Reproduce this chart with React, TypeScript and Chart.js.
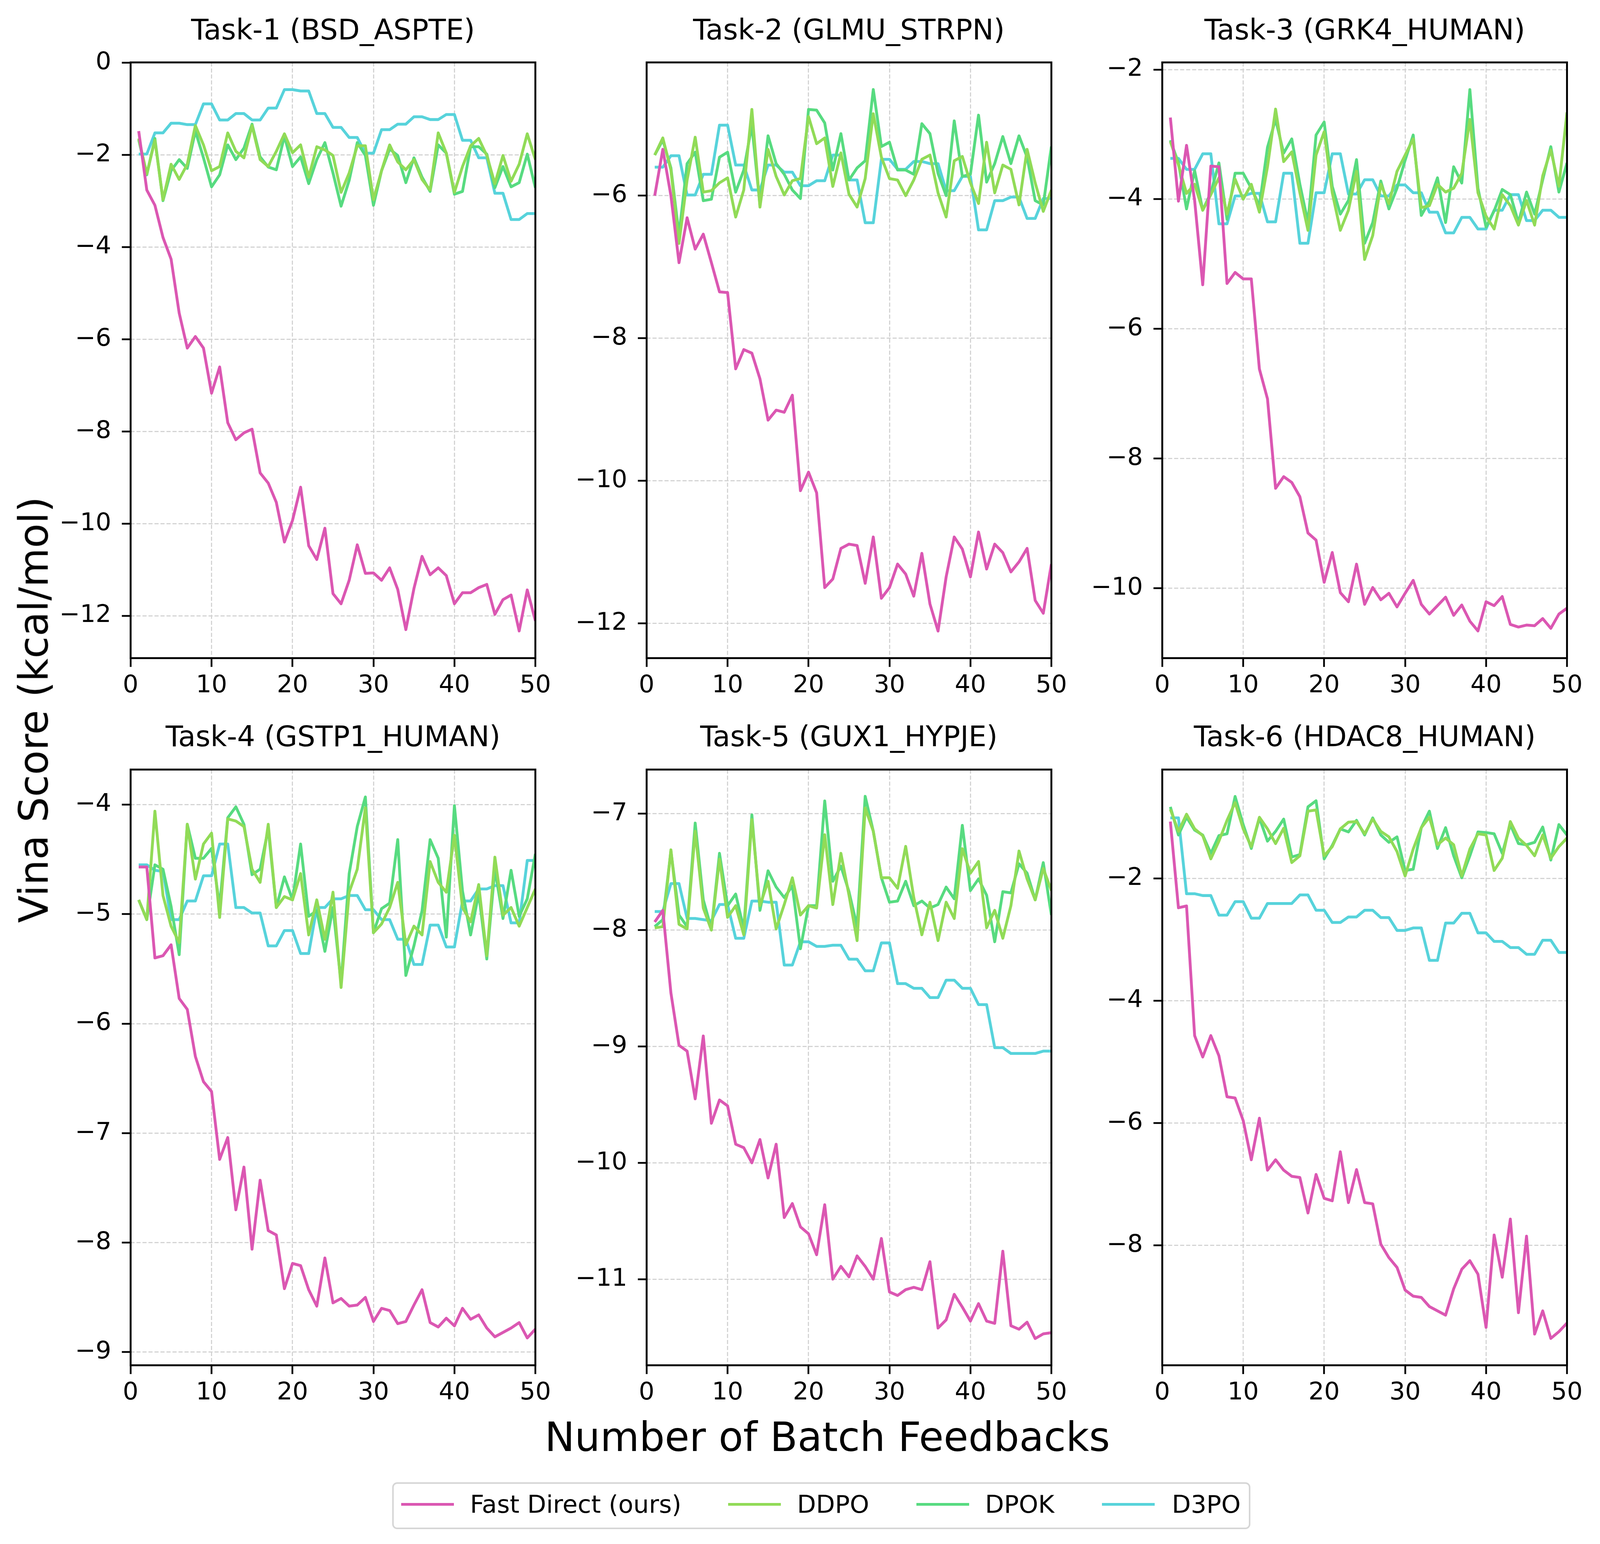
import React, { useEffect, useRef, useState } from 'react';
import { Chart, registerables } from 'chart.js';

Chart.register(...registerables);

// ---------------- DATA ----------------
const batches = [1, 2, 3, 4, 5, 6, 7, 8, 9, 10, 11, 12, 13, 14, 15, 16, 17, 18, 19, 20, 21, 22, 23, 24, 25, 26, 27, 28, 29, 30, 31, 32, 33, 34, 35, 36, 37, 38, 39, 40, 41, 42, 43, 44, 45, 46, 47, 48, 49, 50];
const xTicks = [0, 10, 20, 30, 40, 50];
const seriesNames = ['Fast Direct (ours)', 'DDPO', 'DPOK', 'D3PO'];
const seriesColors = ['#db57b2', '#91db57', '#57db80', '#57d3db'];
const taskTitles = ['Task-1 (BSD_ASPTE)', 'Task-2 (GLMU_STRPN)', 'Task-3 (GRK4_HUMAN)', 'Task-4 (GSTP1_HUMAN)', 'Task-5 (GUX1_HYPJE)', 'Task-6 (HDAC8_HUMAN)'];
const yLabel = 'Vina Score (kcal/mol)';
const xLabel = 'Number of Batch Feedbacks';

const task1FastDirect = [-1.48, -2.76, -3.09, -3.79, -4.26, -5.43, -6.19, -5.94, -6.19, -7.17, -6.6, -7.81, -8.18, -8.03, -7.95, -8.9, -9.12, -9.54, -10.4, -9.93, -9.21, -10.48, -10.78, -10.1, -11.52, -11.74, -11.23, -10.46, -11.08, -11.07, -11.23, -10.96, -11.43, -12.3, -11.41, -10.71, -11.11, -10.96, -11.13, -11.74, -11.5, -11.5, -11.39, -11.32, -11.97, -11.65, -11.55, -12.33, -11.44, -12.11];
const task1DDPO = [-1.64, -2.41, -1.68, -2.97, -2.2, -2.53, -2.2, -1.36, -1.78, -2.34, -2.25, -1.52, -1.92, -2.06, -1.36, -2.1, -2.25, -1.92, -1.54, -1.95, -1.78, -2.48, -1.82, -1.89, -2.01, -2.81, -2.39, -1.8, -1.8, -2.97, -2.34, -1.78, -2.15, -2.32, -2.1, -2.53, -2.76, -1.52, -1.96, -2.81, -2.25, -1.8, -1.64, -2.01, -2.62, -2.01, -2.57, -2.2, -1.54, -2.1];
const task1DPOK = [-1.67, -2.43, -1.64, -2.99, -2.34, -2.1, -2.29, -1.48, -2.06, -2.69, -2.43, -1.78, -2.1, -1.85, -1.33, -2.04, -2.26, -2.32, -1.59, -2.25, -2.04, -2.62, -2.1, -1.73, -2.39, -3.11, -2.55, -1.73, -2.01, -3.09, -2.34, -1.87, -2.01, -2.6, -2.06, -2.48, -2.79, -1.78, -1.96, -2.85, -2.79, -1.82, -1.82, -1.98, -2.71, -2.25, -2.69, -2.6, -1.98, -2.71];
const task1D3PO = [-1.98, -1.98, -1.52, -1.52, -1.31, -1.31, -1.34, -1.34, -0.89, -0.89, -1.24, -1.24, -1.1, -1.1, -1.24, -1.24, -0.98, -0.98, -0.58, -0.58, -0.61, -0.61, -1.1, -1.1, -1.4, -1.4, -1.62, -1.62, -1.96, -1.96, -1.45, -1.45, -1.33, -1.33, -1.17, -1.17, -1.23, -1.23, -1.12, -1.12, -1.68, -1.68, -2.06, -2.06, -2.83, -2.83, -3.4, -3.4, -3.27, -3.27];

const task2FastDirect = [-6.0, -5.35, -6.0, -6.94, -6.31, -6.75, -6.54, -6.94, -7.35, -7.36, -8.43, -8.16, -8.21, -8.57, -9.15, -9.01, -9.04, -8.8, -10.14, -9.88, -10.17, -11.5, -11.38, -10.95, -10.89, -10.91, -11.44, -10.79, -11.65, -11.5, -11.17, -11.31, -11.62, -11.02, -11.73, -12.11, -11.35, -10.79, -10.96, -11.35, -10.72, -11.24, -10.89, -11.01, -11.28, -11.14, -10.95, -11.68, -11.86, -11.17];
const task2DDPO = [-5.43, -5.19, -5.64, -6.67, -5.78, -5.18, -5.95, -5.93, -5.82, -5.75, -6.3, -5.92, -4.79, -6.16, -5.35, -5.73, -5.99, -5.79, -5.76, -4.89, -5.27, -5.19, -5.87, -5.4, -5.98, -6.16, -5.76, -4.85, -5.46, -5.76, -5.78, -6.0, -5.78, -5.49, -5.43, -5.96, -6.3, -5.51, -5.45, -5.82, -6.11, -5.25, -5.96, -5.57, -5.63, -6.13, -5.35, -5.82, -6.22, -5.92];
const task2DPOK = [-5.43, -5.22, -5.61, -6.55, -5.55, -5.39, -6.07, -6.05, -5.46, -5.39, -5.95, -5.64, -5.01, -6.13, -5.16, -5.55, -5.7, -5.92, -6.04, -4.79, -4.8, -4.98, -5.64, -5.13, -5.78, -5.61, -5.51, -4.51, -5.31, -5.25, -5.64, -5.64, -5.7, -4.99, -5.13, -5.69, -6.0, -4.95, -5.73, -5.7, -4.87, -5.81, -5.55, -5.17, -5.55, -5.16, -5.46, -6.07, -6.13, -5.31];
const task2D3PO = [-5.6, -5.6, -5.44, -5.44, -5.99, -5.99, -5.7, -5.7, -5.01, -5.01, -5.57, -5.57, -5.92, -5.92, -5.57, -5.57, -5.67, -5.67, -5.86, -5.86, -5.79, -5.79, -5.43, -5.43, -5.78, -5.78, -6.38, -6.38, -5.49, -5.49, -5.63, -5.63, -5.52, -5.52, -5.55, -5.55, -5.93, -5.93, -5.73, -5.73, -6.48, -6.48, -6.07, -6.07, -6.02, -6.02, -6.32, -6.32, -6.04, -6.04];

const task3FastDirect = [-2.74, -4.03, -3.17, -4.02, -5.32, -3.49, -3.5, -5.3, -5.13, -5.23, -5.23, -6.62, -7.08, -8.46, -8.28, -8.37, -8.59, -9.15, -9.26, -9.91, -9.45, -10.07, -10.21, -9.63, -10.25, -9.99, -10.18, -10.08, -10.29, -10.08, -9.88, -10.25, -10.4, -10.27, -10.14, -10.42, -10.26, -10.51, -10.66, -10.21, -10.27, -10.13, -10.56, -10.6, -10.57, -10.58, -10.47, -10.62, -10.4, -10.31];
const task3DDPO = [-3.11, -3.47, -3.91, -3.77, -4.17, -3.93, -3.67, -4.23, -3.69, -4.0, -3.77, -4.2, -3.5, -2.61, -3.42, -3.27, -3.9, -4.48, -3.32, -2.96, -3.9, -4.48, -4.17, -3.57, -4.93, -4.56, -3.77, -4.07, -3.57, -3.32, -3.07, -4.13, -4.1, -3.77, -3.89, -3.83, -3.6, -2.77, -3.9, -4.26, -4.46, -3.93, -4.1, -4.4, -4.02, -4.4, -3.64, -3.24, -3.8, -2.66];
const task3DPOK = [-3.09, -3.44, -4.15, -3.56, -4.17, -3.9, -3.44, -4.31, -3.6, -3.6, -3.83, -4.1, -3.2, -2.77, -3.29, -3.07, -3.77, -4.36, -3.01, -2.81, -3.8, -4.23, -4.02, -3.39, -4.68, -4.36, -3.72, -4.15, -3.83, -3.4, -3.01, -4.25, -4.03, -3.67, -4.36, -3.5, -3.75, -2.31, -3.83, -4.43, -4.18, -3.85, -3.93, -4.36, -3.89, -4.23, -3.7, -3.19, -3.89, -3.44];
const task3D3PO = [-3.37, -3.37, -3.54, -3.54, -3.3, -3.3, -4.38, -4.38, -3.95, -3.95, -3.91, -3.91, -4.35, -4.35, -3.6, -3.6, -4.68, -4.68, -3.9, -3.9, -3.3, -3.3, -3.92, -3.92, -3.7, -3.7, -3.95, -3.95, -3.78, -3.78, -3.9, -3.9, -4.2, -4.2, -4.52, -4.52, -4.28, -4.28, -4.46, -4.46, -4.17, -4.17, -3.93, -3.93, -4.33, -4.33, -4.17, -4.17, -4.28, -4.28];

const task4FastDirect = [-4.57, -4.57, -5.4, -5.38, -5.28, -5.77, -5.87, -6.3, -6.53, -6.62, -7.24, -7.04, -7.7, -7.31, -8.06, -7.43, -7.89, -7.93, -8.42, -8.19, -8.21, -8.43, -8.58, -8.14, -8.55, -8.51, -8.58, -8.57, -8.5, -8.72, -8.6, -8.62, -8.74, -8.72, -8.57, -8.43, -8.73, -8.77, -8.69, -8.76, -8.6, -8.7, -8.66, -8.78, -8.86, -8.82, -8.78, -8.73, -8.87, -8.79];
const task4DDPO = [-4.87, -5.05, -4.06, -4.83, -5.11, -5.26, -4.18, -4.68, -4.36, -4.26, -5.03, -4.13, -4.15, -4.2, -4.59, -4.71, -4.18, -4.94, -4.84, -4.87, -4.63, -5.19, -4.87, -5.23, -4.8, -5.67, -4.8, -4.59, -4.03, -5.17, -5.09, -4.94, -4.71, -5.28, -5.11, -5.19, -4.52, -4.71, -4.8, -4.28, -4.94, -5.07, -4.73, -5.38, -4.48, -5.01, -4.94, -5.11, -4.94, -4.77];
const task4DPOK = [-4.87, -5.05, -4.55, -4.59, -4.93, -5.37, -4.18, -4.49, -4.49, -4.4, -4.93, -4.12, -4.02, -4.18, -4.64, -4.59, -4.22, -4.94, -4.66, -4.87, -4.36, -5.02, -4.97, -5.34, -4.94, -5.63, -4.63, -4.2, -3.93, -5.17, -4.95, -4.9, -4.32, -5.56, -5.29, -4.97, -4.32, -4.49, -5.21, -4.01, -4.79, -5.19, -4.81, -5.41, -4.59, -5.04, -4.6, -5.02, -4.86, -4.45];
const task4D3PO = [-4.55, -4.55, -4.6, -4.61, -5.05, -5.05, -4.88, -4.88, -4.65, -4.65, -4.36, -4.36, -4.94, -4.94, -4.99, -4.99, -5.29, -5.29, -5.15, -5.15, -5.36, -5.36, -4.94, -4.94, -4.86, -4.86, -4.83, -4.83, -4.96, -4.96, -5.05, -5.05, -5.23, -5.23, -5.46, -5.46, -5.1, -5.1, -5.3, -5.3, -4.88, -4.88, -4.77, -4.77, -4.74, -4.74, -5.08, -5.08, -4.51, -4.51];

const task5FastDirect = [-7.93, -7.83, -8.54, -8.99, -9.04, -9.45, -8.91, -9.66, -9.46, -9.51, -9.84, -9.87, -10.0, -9.8, -10.13, -9.84, -10.47, -10.35, -10.55, -10.61, -10.79, -10.36, -11.0, -10.89, -10.98, -10.8, -10.89, -11.0, -10.65, -11.11, -11.14, -11.09, -11.07, -11.09, -10.85, -11.42, -11.35, -11.13, -11.24, -11.36, -11.21, -11.36, -11.38, -10.76, -11.4, -11.43, -11.37, -11.51, -11.47, -11.46];
const task5DDPO = [-7.98, -7.97, -7.31, -7.95, -7.99, -7.15, -7.81, -8.0, -7.39, -7.89, -7.79, -8.04, -7.05, -7.79, -7.58, -7.99, -7.78, -7.55, -7.87, -7.79, -7.81, -7.18, -7.78, -7.34, -7.7, -8.09, -6.95, -7.15, -7.55, -7.55, -7.64, -7.28, -7.72, -8.04, -7.76, -8.09, -7.76, -7.9, -7.3, -7.51, -7.41, -7.98, -7.83, -8.07, -7.79, -7.32, -7.56, -7.74, -7.47, -7.66];
const task5DPOK = [-7.97, -7.91, -7.32, -7.87, -7.97, -7.08, -7.74, -7.99, -7.34, -7.79, -7.69, -7.99, -7.01, -7.83, -7.49, -7.63, -7.72, -7.62, -8.16, -7.79, -7.79, -6.89, -7.58, -7.45, -7.67, -7.97, -6.85, -7.15, -7.55, -7.76, -7.75, -7.58, -7.79, -7.75, -7.81, -7.78, -7.63, -7.73, -7.1, -7.66, -7.56, -7.7, -8.1, -7.67, -7.68, -7.43, -7.51, -7.74, -7.42, -7.87];
const task5D3PO = [-7.84, -7.84, -7.6, -7.6, -7.9, -7.9, -7.91, -7.92, -7.78, -7.78, -8.07, -8.07, -7.75, -7.75, -7.76, -7.76, -8.3, -8.3, -8.1, -8.1, -8.14, -8.14, -8.13, -8.13, -8.25, -8.25, -8.35, -8.35, -8.11, -8.11, -8.46, -8.46, -8.5, -8.5, -8.58, -8.58, -8.43, -8.43, -8.5, -8.5, -8.64, -8.64, -9.01, -9.01, -9.06, -9.06, -9.06, -9.06, -9.04, -9.04];

const task6FastDirect = [-1.07, -2.48, -2.45, -4.57, -4.92, -4.57, -4.9, -5.57, -5.59, -5.96, -6.6, -5.92, -6.77, -6.6, -6.77, -6.87, -6.89, -7.47, -6.84, -7.23, -7.27, -6.47, -7.3, -6.76, -7.3, -7.32, -7.98, -8.2, -8.36, -8.73, -8.83, -8.85, -9.0, -9.07, -9.14, -8.71, -8.39, -8.25, -8.47, -9.34, -7.83, -8.52, -7.57, -9.1, -7.85, -9.45, -9.07, -9.52, -9.41, -9.27];
const task6DDPO = [-0.87, -1.23, -0.95, -1.19, -1.3, -1.68, -1.39, -1.05, -0.76, -1.19, -1.48, -1.0, -1.19, -1.43, -1.18, -1.74, -1.63, -0.9, -0.88, -1.63, -1.48, -1.19, -1.08, -1.07, -1.27, -1.03, -1.23, -1.32, -1.56, -1.96, -1.52, -1.17, -1.0, -1.45, -1.34, -1.45, -1.96, -1.52, -1.27, -1.29, -1.87, -1.67, -1.07, -1.34, -1.46, -1.63, -1.29, -1.67, -1.48, -1.34];
const task6DPOK = [-0.83, -1.29, -1.0, -1.21, -1.29, -1.59, -1.3, -1.27, -0.66, -1.12, -1.51, -1.01, -1.39, -1.23, -1.03, -1.65, -1.61, -0.83, -0.73, -1.68, -1.46, -1.19, -1.24, -1.05, -1.29, -1.01, -1.29, -1.41, -1.32, -1.87, -1.85, -1.17, -0.9, -1.51, -1.17, -1.63, -1.99, -1.63, -1.24, -1.25, -1.27, -1.59, -1.12, -1.43, -1.45, -1.41, -1.16, -1.7, -1.12, -1.29];
const task6D3PO = [-1.01, -1.01, -2.25, -2.25, -2.28, -2.28, -2.6, -2.6, -2.38, -2.38, -2.65, -2.65, -2.41, -2.41, -2.41, -2.41, -2.27, -2.27, -2.52, -2.52, -2.72, -2.72, -2.63, -2.63, -2.52, -2.52, -2.64, -2.64, -2.85, -2.85, -2.81, -2.81, -3.34, -3.34, -2.73, -2.73, -2.57, -2.57, -2.89, -2.89, -3.03, -3.03, -3.13, -3.13, -3.24, -3.24, -3.01, -3.01, -3.21, -3.21];

const task1YTicks = [-12, -10, -8, -6, -4, -2, 0];
const task2YTicks = [-12, -10, -8, -6];
const task3YTicks = [-10, -8, -6, -4, -2];
const task4YTicks = [-9, -8, -7, -6, -5, -4];
const task5YTicks = [-11, -10, -9, -8, -7];
const task6YTicks = [-8, -6, -4, -2];

const yLimitsMin = [-12.92, -12.49, -11.08, -9.12, -11.74, -9.96];
const yLimitsMax = [0.01, -4.13, -1.89, -3.68, -6.62, -0.22];

const panels = [
  { title: taskTitles[0], series: [task1FastDirect, task1DDPO, task1DPOK, task1D3PO], yTicks: task1YTicks },
  { title: taskTitles[1], series: [task2FastDirect, task2DDPO, task2DPOK, task2D3PO], yTicks: task2YTicks },
  { title: taskTitles[2], series: [task3FastDirect, task3DDPO, task3DPOK, task3D3PO], yTicks: task3YTicks },
  { title: taskTitles[3], series: [task4FastDirect, task4DDPO, task4DPOK, task4D3PO], yTicks: task4YTicks },
  { title: taskTitles[4], series: [task5FastDirect, task5DDPO, task5DPOK, task5D3PO], yTicks: task5YTicks },
  { title: taskTitles[5], series: [task6FastDirect, task6DDPO, task6DPOK, task6D3PO], yTicks: task6YTicks },
];

// ---------------- LAYOUT ----------------
// Design units follow a 7289 x 3952 figure; the layout adapts to the real window.
const FONT = '"DejaVu Sans", "Liberation Sans", sans-serif';
const REF_W = 7289;
const REF_H = 3952;

function computeLayout(W: number, H: number) {
  const sx = W / REF_W;
  const sy = H / REF_H;
  const f = Math.sqrt(sx * sy);
  const leftM = 446 * f;
  const gapX = 379 * f;
  const rightM = 112 * f;
  const plotW = (W - leftM - 2 * gapX - rightM) / 3;
  const topM = 187 * f;
  const gapY = 354 * f;
  const bottomM = 611 * f;
  const plotH = (H - topM - gapY - bottomM) / 2;
  const colLeft = [leftM, leftM + plotW + gapX, leftM + 2 * (plotW + gapX)];
  const rowTop = [topM, topM + plotH + gapY];
  return { W, H, f, plotW, plotH, colLeft, rowTop };
}

const fmt = (v: number) => (v < 0 ? '\u2212' + String(Math.abs(v)) : String(v));

function makeFramePlugin(width: number) {
  return {
    id: 'frame',
    afterDatasetsDraw(chart: any) {
      const { ctx, chartArea } = chart;
      const { left, top, right, bottom } = chartArea;
      ctx.save();
      ctx.strokeStyle = '#000';
      ctx.lineWidth = width;
      ctx.lineJoin = 'miter';
      ctx.strokeRect(left, top, right - left, bottom - top);
      ctx.restore();
    },
  };
}

function Panel({ idx, L }: { idx: number; L: any }) {
  const ref = useRef<HTMLCanvasElement>(null);
  const f = L.f;
  const axisW = 330 * f;
  const padTop = 60 * f;
  const padRight = 70 * f;
  const xAxisH = 150 * f;
  const c = idx % 3;
  const r = Math.floor(idx / 3);
  const left = Math.round(L.colLeft[c] - axisW);
  const top = Math.round(L.rowTop[r] - padTop);
  const cw = Math.round(axisW + L.plotW + padRight);
  const ch = Math.round(padTop + L.plotH + xAxisH);

  useEffect(() => {
    const p = panels[idx];
    const gridCommon = {
      color: '#d4d4d4',
      lineWidth: 4 * f,
      drawTicks: true,
      tickLength: 30 * f,
      tickColor: '#000',
      tickWidth: 6 * f,
      tickBorderDash: [],
    };
    const tickFont = { family: FONT, size: 84 * f };
    const chart = new Chart(ref.current as HTMLCanvasElement, {
      type: 'line',
      data: {
        datasets: p.series.map((vals, k) => ({
          label: seriesNames[k],
          data: vals.map((v, i) => ({ x: batches[i], y: v })),
          borderColor: seriesColors[k],
          backgroundColor: seriesColors[k],
          borderWidth: 9.7 * f,
          pointRadius: 0,
          pointHoverRadius: 0,
          tension: 0,
          fill: false,
          borderJoinStyle: 'round',
          borderCapStyle: 'butt',
        })),
      },
      options: {
        responsive: false,
        animation: false,
        devicePixelRatio: 1,
        events: [],
        layout: { padding: { top: padTop, right: padRight, left: 0, bottom: 0 } },
        plugins: {
          legend: { display: false },
          tooltip: { enabled: false },
          title: { display: false },
        },
        scales: {
          x: {
            type: 'linear',
            min: 0,
            max: 50,
            afterBuildTicks: (s: any) => {
              s.ticks = xTicks.map((v) => ({ value: v }));
            },
            afterFit: (s: any) => {
              s.height = xAxisH;
            },
            grid: gridCommon,
            border: { display: false, dash: [14 * f, 6.5 * f] },
            ticks: {
              font: tickFont,
              color: '#000',
              padding: 14 * f,
              maxRotation: 0,
              autoSkip: false,
              callback: (v: any) => fmt(Number(v)),
            },
          },
          y: {
            type: 'linear',
            min: yLimitsMin[idx],
            max: yLimitsMax[idx],
            afterBuildTicks: (s: any) => {
              s.ticks = p.yTicks.map((v) => ({ value: v }));
            },
            afterFit: (s: any) => {
              s.width = axisW;
            },
            grid: gridCommon,
            border: { display: false, dash: [14 * f, 6.5 * f] },
            ticks: {
              font: tickFont,
              color: '#000',
              padding: 36 * f,
              autoSkip: false,
              callback: (v: any) => fmt(Number(v)),
            },
          },
        },
      } as any,
      plugins: [makeFramePlugin(6.5 * f)],
    });
    return () => chart.destroy();
  }, [idx, f, cw, ch]);

  return (
    <canvas
      ref={ref}
      width={cw}
      height={ch}
      style={{ position: 'absolute', left, top, width: cw, height: ch }}
    />
  );
}

const legendHandleOffset = [31, 1148, 1790, 2424];
const legendTextOffset = [266, 1383, 2025, 2663];

export default function App() {
  const [size] = useState(() => ({
    W: typeof window !== 'undefined' ? window.innerWidth : REF_W,
    H: typeof window !== 'undefined' ? window.innerHeight : REF_H,
  }));
  const L = computeLayout(size.W, size.H);
  const f = L.f;
  const plotsBottom = L.rowTop[1] + L.plotH;
  const plotsMidY = (L.rowTop[0] + plotsBottom) / 2;

  const titleSize = 97 * f;
  const labelSize = 137 * f;
  const legendFont = 84 * f;
  const legendW = 2931 * f;
  const legendH = 160 * f;
  const legendLeft = L.W / 2 + (3717 - 3644.5) * f - legendW / 2;
  const legendTop = plotsBottom + 400 * f;
  const xLabelCenter = L.W / 2 + (3738 - 3644.5) * f;

  return (
    <div
      style={{
        position: 'absolute',
        left: 0,
        top: 0,
        width: L.W,
        height: L.H,
        background: '#ffffff',
        overflow: 'hidden',
        fontFamily: FONT,
        color: '#000',
      }}
    >
      {panels.map((p, i) => (
        <Panel key={'p' + i} idx={i} L={L} />
      ))}
      {panels.map((p, i) => (
        <div
          key={'t' + i}
          style={{
            position: 'absolute',
            left: L.colLeft[i % 3],
            top: L.rowTop[Math.floor(i / 3)] - 52 * f - 0.928 * titleSize,
            width: L.plotW,
            textAlign: 'center',
            fontSize: titleSize,
            lineHeight: `${1.164 * titleSize}px`,
            whiteSpace: 'nowrap',
          }}
        >
          {p.title}
        </div>
      ))}
      <div
        style={{
          position: 'absolute',
          left: 163 * f - 0.928 * labelSize + 0.582 * labelSize - 1500,
          top: plotsMidY - 0.582 * labelSize,
          width: 3000,
          height: 1.164 * labelSize,
          textAlign: 'center',
          fontSize: labelSize,
          lineHeight: `${1.164 * labelSize}px`,
          whiteSpace: 'nowrap',
          transform: 'rotate(-90deg)',
          transformOrigin: '50% 50%',
        }}
      >
        {yLabel}
      </div>
      <div
        style={{
          position: 'absolute',
          left: xLabelCenter - 1500,
          width: 3000,
          textAlign: 'center',
          top: plotsBottom + 294 * f - 0.928 * labelSize,
          fontSize: labelSize,
          lineHeight: `${1.164 * labelSize}px`,
          whiteSpace: 'nowrap',
        }}
      >
        {xLabel}
      </div>
      <div
        style={{
          position: 'absolute',
          left: legendLeft,
          top: legendTop,
          width: legendW,
          height: legendH,
          boxSizing: 'border-box',
          border: `${6 * f}px solid #d6d6d6`,
          borderRadius: 17 * f,
          background: '#fff',
        }}
      />
      {seriesNames.map((name, k) => (
        <React.Fragment key={'l' + k}>
          <div
            style={{
              position: 'absolute',
              left: legendLeft + legendHandleOffset[k] * f,
              top: legendTop + 76 * f - (9.7 * f) / 2,
              width: 180 * f,
              height: 9.7 * f,
              background: seriesColors[k],
            }}
          />
          <div
            style={{
              position: 'absolute',
              left: legendLeft + legendTextOffset[k] * f,
              top: legendTop + 27 * f,
              fontSize: legendFont,
              lineHeight: `${98 * f}px`,
              whiteSpace: 'nowrap',
            }}
          >
            {name}
          </div>
        </React.Fragment>
      ))}
    </div>
  );
}
